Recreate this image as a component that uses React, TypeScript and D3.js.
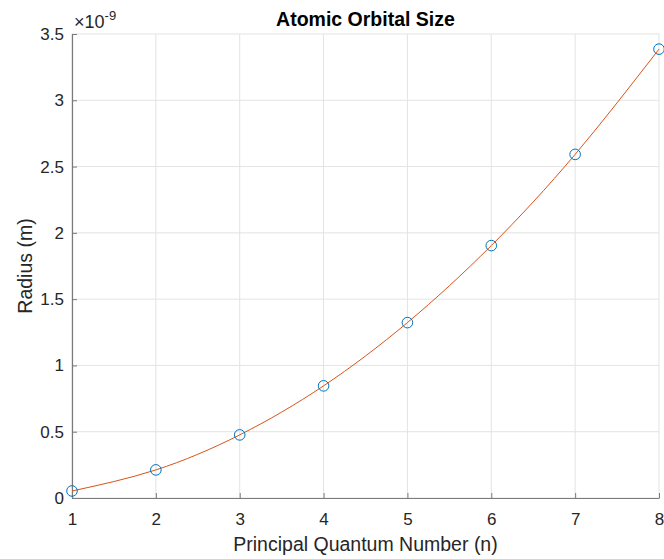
import React, { useEffect, useRef } from 'react';
import * as d3 from 'd3';

// principal quantum number and orbital radius (in units of 1e-9 m)
const nValues = [1, 2, 3, 4, 5, 6, 7, 8];
const radius = [0.053, 0.212, 0.476, 0.846, 1.323, 1.904, 2.592, 3.386];
const xTicks = [1, 2, 3, 4, 5, 6, 7, 8];
const yTicks = [0, 0.5, 1, 1.5, 2, 2.5, 3, 3.5];

const App = () => {
  const ref = useRef<SVGSVGElement>(null);

  useEffect(() => {
    const width = 664;
    const height = 559;
    const margin = { top: 34, left: 72, right: 5, bottom: 61 };
    const font = '"Liberation Sans", Arial, Helvetica, sans-serif';

    const svg = d3.select(ref.current);
    svg.selectAll('*').remove();

    const x = d3.scaleLinear().domain([1, 8]).range([margin.left, width - margin.right]);
    const y = d3.scaleLinear().domain([0, 3.5]).range([height - margin.bottom, margin.top]);

    const g = svg.append('g');

    // grid
    g.append('g')
      .selectAll('line')
      .data(xTicks)
      .enter()
      .append('line')
      .attr('x1', (d) => x(d))
      .attr('x2', (d) => x(d))
      .attr('y1', y(0))
      .attr('y2', y(3.5))
      .attr('stroke', '#e3e3e3')
      .attr('stroke-width', 1);
    g.append('g')
      .selectAll('line')
      .data(yTicks)
      .enter()
      .append('line')
      .attr('x1', x(1))
      .attr('x2', x(8))
      .attr('y1', (d) => y(d))
      .attr('y2', (d) => y(d))
      .attr('stroke', '#e3e3e3')
      .attr('stroke-width', 1);

    // axes
    const xAxis = d3
      .axisBottom(x)
      .tickValues(xTicks)
      .tickSizeInner(-5)
      .tickSizeOuter(0)
      .tickPadding(15)
      .tickFormat(d3.format('d'));
    const yAxis = d3
      .axisLeft(y)
      .tickValues(yTicks)
      .tickSizeInner(-5)
      .tickSizeOuter(0)
      .tickPadding(8)
      .tickFormat((d) => String(d));

    const gx = g
      .append('g')
      .attr('transform', `translate(0,${y(0)})`)
      .call(xAxis);
    const gy = g
      .append('g')
      .attr('transform', `translate(${x(1)},0)`)
      .call(yAxis);

    [gx, gy].forEach((ax) => {
      ax.select('.domain').attr('stroke', '#7a7a7a').attr('stroke-width', 1.2);
      ax.selectAll('.tick line').attr('stroke', '#7a7a7a');
      ax.selectAll('.tick text')
        .attr('fill', '#262626')
        .style('font-family', font)
        .style('font-size', '17px');
    });

    // fitted curve
    const line = d3
      .line<number>()
      .x((d, i) => x(nValues[i]))
      .y((d) => y(d))
      .curve(d3.curveNatural);

    g.append('path')
      .datum(radius)
      .attr('d', line)
      .attr('fill', 'none')
      .attr('stroke', '#D95319')
      .attr('stroke-width', 1);

    // data markers
    g.append('g')
      .selectAll('circle')
      .data(radius)
      .enter()
      .append('circle')
      .attr('cx', (d, i) => x(nValues[i]))
      .attr('cy', (d) => y(d))
      .attr('r', 5.3)
      .attr('fill', 'none')
      .attr('stroke', '#0072BD')
      .attr('stroke-width', 1);

    // exponent label
    const exp = g
      .append('text')
      .attr('x', x(1) + 2)
      .attr('y', 28)
      .attr('fill', '#262626')
      .style('font-family', font)
      .style('font-size', '18px');
    exp.append('tspan').text('×10');
    exp.append('tspan').attr('dy', -8).style('font-size', '13px').text('-9');

    // title
    g.append('text')
      .attr('x', (x(1) + x(8)) / 2)
      .attr('y', 26)
      .attr('text-anchor', 'middle')
      .attr('fill', '#000')
      .style('font-family', font)
      .style('font-size', '19.5px')
      .style('font-weight', 'bold')
      .text('Atomic Orbital Size');

    // axis labels
    g.append('text')
      .attr('x', (x(1) + x(8)) / 2)
      .attr('y', 551)
      .attr('text-anchor', 'middle')
      .attr('fill', '#262626')
      .style('font-family', font)
      .style('font-size', '19.5px')
      .text('Principal Quantum Number (n)');

    g.append('text')
      .attr('transform', `translate(32,${(y(0) + y(3.5)) / 2}) rotate(-90)`)
      .attr('text-anchor', 'middle')
      .attr('fill', '#262626')
      .style('font-family', font)
      .style('font-size', '19.5px')
      .text('Radius (m)');
  }, []);

  return (
    <svg
      ref={ref}
      width={664}
      height={559}
      style={{ position: 'absolute', left: 0, top: 0, background: '#fff' }}
    />
  );
};

export default App;
